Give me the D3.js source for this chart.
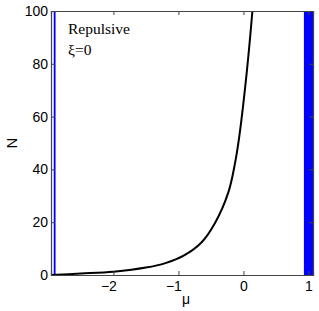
<!DOCTYPE html>
<html>
<head>
<meta charset="utf-8">
<script src="https://cdn.jsdelivr.net/npm/d3@7"></script>
<style>
  body { margin: 0; background: #fff; }
  svg { display: block; }
</style>
</head>
<body>
<div id="chart"></div>
<script>
// curve
const muValues = [-2.96, -2.5, -2.0, -1.5, -1.2, -0.92, -0.65, -0.435, -0.23, -0.13, -0.061, 0.052, 0.138, 0.16];
const nValues = [0, 0.55, 1.25, 2.8, 4.5, 7.3, 12.2, 19.8, 31.5, 42.3, 53, 77, 100, 107];

// blue bands (in mu)
const bandStart = [-2.918, 0.93];
const bandEnd = [-2.89, 1.07];

const xTicks = [-2, -1, 0, 1];
const yTicks = [0, 20, 40, 60, 80, 100];

const width = 319, height = 311;
const margin = { left: 51, right: 6, top: 11, bottom: 36 };

const xScale = d3.scaleLinear().domain([-2.96, 1.07]).range([margin.left, width - margin.right]);
const yScale = d3.scaleLinear().domain([0, 100]).range([height - margin.bottom, margin.top]);

const svg = d3.select("#chart").append("svg")
  .attr("width", width)
  .attr("height", height);

svg.append("clipPath").attr("id", "plot-clip")
  .append("rect")
  .attr("x", margin.left).attr("y", margin.top)
  .attr("width", width - margin.left - margin.right)
  .attr("height", height - margin.top - margin.bottom);

const plot = svg.append("g").attr("clip-path", "url(#plot-clip)");

// bands
plot.selectAll(".band")
  .data(bandStart.map((s, i) => ({ x0: s, x1: bandEnd[i] })))
  .enter().append("rect")
  .attr("class", "band")
  .attr("x", d => xScale(d.x0))
  .attr("width", d => xScale(d.x1) - xScale(d.x0))
  .attr("y", yScale(100))
  .attr("height", yScale(0) - yScale(100))
  .attr("fill", "#0000ff");

// curve
const points = muValues.map((m, i) => [m, nValues[i]]);
plot.append("path")
  .datum(points)
  .attr("fill", "none")
  .attr("stroke", "#000")
  .attr("stroke-width", 2)
  .attr("d", d3.line()
    .x(d => xScale(d[0]))
    .y(d => yScale(d[1]))
    .curve(d3.curveCatmullRom.alpha(0.5)));

// axes (matlab style box, inward ticks)
const axisColor = "#444";
const tickFont = "'Liberation Sans', Arial, sans-serif";

const xAxisB = d3.axisBottom(xScale).tickValues(xTicks).tickSize(-4).tickPadding(6)
  .tickFormat(d => d < 0 ? "\u2212" + Math.abs(d) : d);
const xAxisT = d3.axisTop(xScale).tickValues(xTicks).tickSize(-4).tickFormat("");
const yAxisL = d3.axisLeft(yScale).tickValues(yTicks).tickSize(-4).tickPadding(3);
const yAxisR = d3.axisRight(yScale).tickValues(yTicks).tickSize(-4).tickFormat("");

function styleAxis(g) {
  g.selectAll("path").attr("stroke", axisColor).attr("stroke-width", 1.2);
  g.selectAll("line").attr("stroke", axisColor);
  g.selectAll("text").attr("fill", "#000").style("font-size", "14px").style("font-family", tickFont);
}

svg.append("g").attr("transform", `translate(0,${yScale(0)})`).call(xAxisB).call(styleAxis)
  .selectAll(".tick text").attr("dx", d => d < 0 ? -5 : 0);
svg.append("g").attr("transform", `translate(0,${yScale(100)})`).call(xAxisT).call(styleAxis);
svg.append("g").attr("transform", `translate(${xScale.range()[0]},0)`).call(yAxisL).call(styleAxis);
svg.append("g").attr("transform", `translate(${xScale.range()[1]},0)`).call(yAxisR).call(styleAxis);

// labels
svg.append("text")
  .attr("x", 186)
  .attr("y", 304)
  .attr("text-anchor", "middle")
  .style("font-family", tickFont)
  .style("font-size", "14px")
  .text("\u03bc");

svg.append("text")
  .attr("transform", "translate(16.5," + ((margin.top + height - margin.bottom) / 2) + ") rotate(-90)")
  .attr("text-anchor", "middle")
  .style("font-family", tickFont)
  .style("font-size", "15px")
  .text("N");

const serif = "'Liberation Serif', 'Times New Roman', serif";
svg.append("text")
  .attr("x", 68).attr("y", 34)
  .style("font-family", serif)
  .style("font-size", "15.5px")
  .text("Repulsive");
svg.append("text")
  .attr("x", 68).attr("y", 55)
  .style("font-family", serif)
  .style("font-size", "15.5px")
  .text("\u03be=0");
</script>
</body>
</html>
